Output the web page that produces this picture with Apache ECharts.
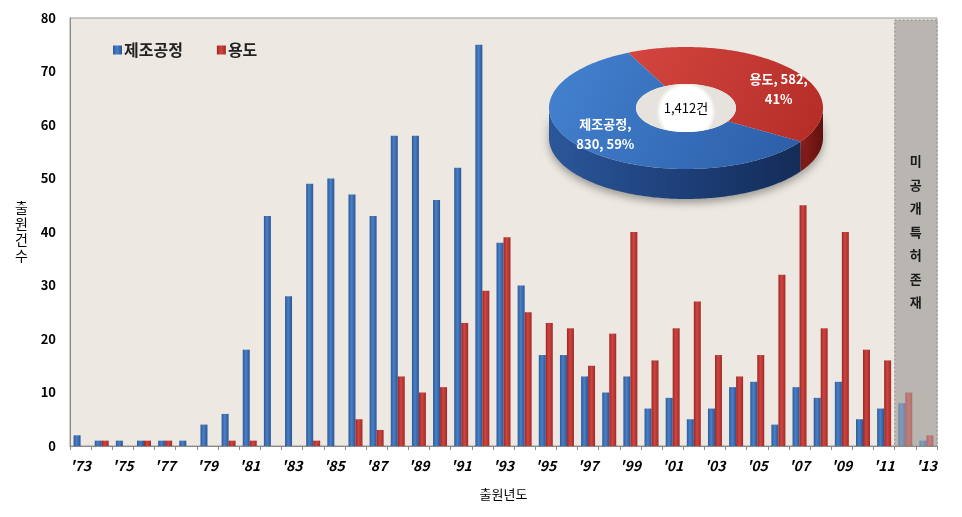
<!DOCTYPE html>
<html><head><meta charset="utf-8">
<script src="https://cdn.jsdelivr.net/npm/echarts@6/dist/echarts.min.js"></script>
<style>html,body{margin:0;padding:0;background:#fff}#c{width:962px;height:517px}</style>
</head><body><div id="c"></div>
<script>
const years = ["'73","'74","'75","'76","'77","'78","'79","'80","'81","'82","'83","'84","'85","'86","'87","'88","'89","'90","'91","'92","'93","'94","'95","'96","'97","'98","'99","'00","'01","'02","'03","'04","'05","'06","'07","'08","'09","'10","'11","'12","'13"];
const processData = [2,1,1,1,1,1,4,6,18,43,28,49,50,47,43,58,58,46,52,75,38,30,17,17,13,10,13,7,9,5,7,11,12,4,11,9,12,5,7,8,1];
const useData = [0,1,0,1,1,0,0,1,1,0,0,1,0,5,3,13,10,11,23,29,39,25,23,22,15,21,40,16,22,27,17,13,17,32,45,22,40,18,16,10,2];
const seriesNames = ['제조공정','용도'];
const pieNames = ['용도','제조공정'];
const pieValues = [582, 830];
const unpublishedRange = ["'12","'13"];
const unpublishedLabel = '미공개특허존재';
const yTicks = {min:0, max:80, interval:10};

const FONT = "'Noto Sans CJK KR','Noto Sans',sans-serif";
const iStart = years.indexOf(unpublishedRange[0]);
const iEnd = years.indexOf(unpublishedRange[1]);

function barGrad(l, c, r) {
  return new echarts.graphic.LinearGradient(0,0,1,0,[{offset:0,color:l},{offset:0.45,color:c},{offset:1,color:r}]);
}
const blueGrad = barGrad('#2B5A9C','#4A80C6','#2A5594');
const redGrad = barGrad('#9C2825','#CF4541','#A02B27');

function fadeData(arr) {
  return arr.map((v,i)=> i>=iStart ? {value:v, itemStyle:{opacity:0.5}} : v);
}

// 3D donut geometry (layout only)
const P = {cx:686, cy:108, rx:137, ry:61, depth:30, irx:50, iry:24, start:-25};
function pt(rx, ry, deg, dy) {
  const a = deg*Math.PI/180;
  return [P.cx + rx*Math.sin(a), P.cy - ry*Math.cos(a) + (dy||0)];
}
function arc(rx, ry, a0, a1, dy) {
  const pts = [];
  const n = Math.max(2, Math.ceil(Math.abs(a1-a0)));
  for (let k=0;k<=n;k++) pts.push(pt(rx, ry, a0+(a1-a0)*k/n, dy));
  return pts;
}
const total = pieValues.reduce((a,b)=>a+b,0);

const pieColors = {
  '용도': {top: new echarts.graphic.LinearGradient(0,0,1,1,[{offset:0,color:'#D4463F'},{offset:1,color:'#B42C27'}]),
          side: new echarts.graphic.LinearGradient(0,0,1,0,[{offset:0,color:'#8E1F1C'},{offset:1,color:'#5E1010'}])},
  '제조공정': {top: new echarts.graphic.LinearGradient(0,0,1,1,[{offset:0,color:'#4382D0'},{offset:1,color:'#2C5DA6'}]),
          side: new echarts.graphic.LinearGradient(0,0,1,0,[{offset:0,color:'#2B579A'},{offset:0.6,color:'#1C3C74'},{offset:1,color:'#142C58'}])}
};
const labelOffsets = [[14, 10], [-2, -3]];

function renderPie(params, api) {
  const idx = params.dataIndex;
  let before = 0;
  for (let k=0;k<idx;k++) before += pieValues[k];
  const a0 = P.start + before/total*360;
  const a1 = P.start + (before+pieValues[idx])/total*360;
  const name = pieNames[idx];
  const children = [];
  [[90,270],[450,630],[-270,-90]].forEach(r=>{
    const b0 = Math.max(a0, r[0]), b1 = Math.min(a1, r[1]);
    if (b1 > b0) {
      const top = arc(P.rx, P.ry, b0, b1, 0);
      const bot = arc(P.rx, P.ry, b1, b0, P.depth);
      children.push({type:'polygon', shape:{points: top.concat(bot)},
        style:{fill: pieColors[name].side, shadowBlur:8, shadowColor:'rgba(0,0,0,0.35)', shadowOffsetY:4}});
    }
  });
  const outer = arc(P.rx, P.ry, a0, a1, 0);
  const inner = arc(P.irx, P.iry, a1, a0, 0);
  children.push({type:'polygon', shape:{points: outer.concat(inner)}, style:{fill: pieColors[name].top}});
  const mid = (a0+a1)/2;
  const lp = pt(P.irx + 0.62*(P.rx-P.irx), P.iry + 0.55*(P.ry-P.iry), mid, 0);
  const pct = Math.round(pieValues[idx]/total*100);
  const labelText = idx===0 ? name+', '+pieValues[idx]+',\n'+pct+'%' : name+',\n'+pieValues[idx]+', '+pct+'%';
  children.push({type:'text', x: lp[0]+labelOffsets[idx][0], y: lp[1]+labelOffsets[idx][1],
    style:{text: labelText, fill:'#fff', font:'bold 13px '+FONT, align:'center', verticalAlign:'middle', lineHeight:20}});
  if (idx === pieValues.length-1) {
    children.push({type:'ellipse', shape:{cx:P.cx, cy:P.cy, rx:P.irx, ry:P.iry},
      style:{fill: new echarts.graphic.RadialGradient(0.5,0.58,0.62,[{offset:0,color:'#ffffff'},{offset:0.85,color:'#ffffff'},{offset:1,color:'#e6e3de'}])}});
    children.push({type:'text', x:P.cx, y:P.cy, style:{text: total.toLocaleString('en-US')+'건', fill:'#000', font:'13px '+FONT, align:'center', verticalAlign:'middle'}});
  }
  return {type:'group', children};
}

function renderBand(params, api) {
  const s = api.coord([api.value(0), 0]);
  const e = api.coord([api.value(1), 0]);
  const w = api.size([1, 0])[0];
  const cs = params.coordSys;
  const x0 = s[0]-w/2, x1 = e[0]+w/2;
  return {type:'group', children:[
    {type:'rect', shape:{x:x0, y:cs.y+2, width:x1-x0, height:cs.height-2},
      style:{fill:'#B9B6B1', stroke:'#8f8d89', lineWidth:1, lineDash:[2,2]}},
    {type:'text', x:(x0+x1)/2, y:cs.y+cs.height/2, style:{text: unpublishedLabel.split('').join('\n'), fill:'#1a1a1a', font:'bold 13px '+FONT, align:'center', verticalAlign:'middle', lineHeight:23.5}}
  ]};
}

const chart = echarts.init(document.getElementById('c'), null, {renderer:'canvas'});
chart.setOption({
  animation:false,
  backgroundColor:'#fff',
  textStyle:{fontFamily:FONT},
  grid:{left:70, right:25, top:18, bottom:71, show:true, backgroundColor:'#EDE9E2', borderColor:'#9a9a9a', borderWidth:1},
  legend:{data:seriesNames, left:108, top:37, icon:'rect', itemWidth:9, itemHeight:9, itemGap:34,
    textStyle:{fontFamily:FONT, fontSize:16, fontWeight:'bold', color:'#222', padding:[0,0,0,-3]}},
  xAxis:{type:'category', data:years, name:'출원년도', nameLocation:'middle', nameGap:42,
    nameTextStyle:{fontFamily:FONT, fontSize:13, color:'#000'},
    axisLine:{lineStyle:{color:'#8a8a8a'}},
    axisTick:{show:true, interval:0, length:4, lineStyle:{color:'#8a8a8a'}},
    axisLabel:{interval:1, margin:13, fontFamily:FONT, fontSize:14, fontWeight:'bold', fontStyle:'italic', color:'#000'}},
  yAxis:{type:'value', min:yTicks.min, max:yTicks.max, interval:yTicks.interval,
    name:'출원건수'.split('').join('\n'), nameLocation:'middle', nameGap:42, nameRotate:0,
    nameTextStyle:{fontFamily:FONT, fontSize:14, color:'#000', lineHeight:16},
    splitLine:{show:false}, axisLine:{show:true, lineStyle:{color:'#8a8a8a'}}, axisTick:{show:false},
    axisLabel:{margin:14, fontFamily:FONT, fontSize:13, fontWeight:'bold', color:'#000'}},
  series:[
    {type:'custom', name:'band', coordinateSystem:'cartesian2d', renderItem:renderBand, z:1,
     encode:{x:[0,1], y:-1}, data:[[iStart, iEnd]], silent:true},
    {type:'bar', name:seriesNames[0], data:fadeData(processData), barWidth:7, barGap:'0%', z:3,
     color:'#3A6DB3', itemStyle:{color:blueGrad}},
    {type:'bar', name:seriesNames[1], data:fadeData(useData), barWidth:7, barGap:'0%', z:3,
     color:'#C0392F', itemStyle:{color:redGrad}},
    {type:'custom', name:'pie', coordinateSystem:'none', renderItem:renderPie, z:10,
     data:pieValues.map((v,i)=>({name:pieNames[i], value:v})), silent:true}
  ]
});
</script></body></html>
